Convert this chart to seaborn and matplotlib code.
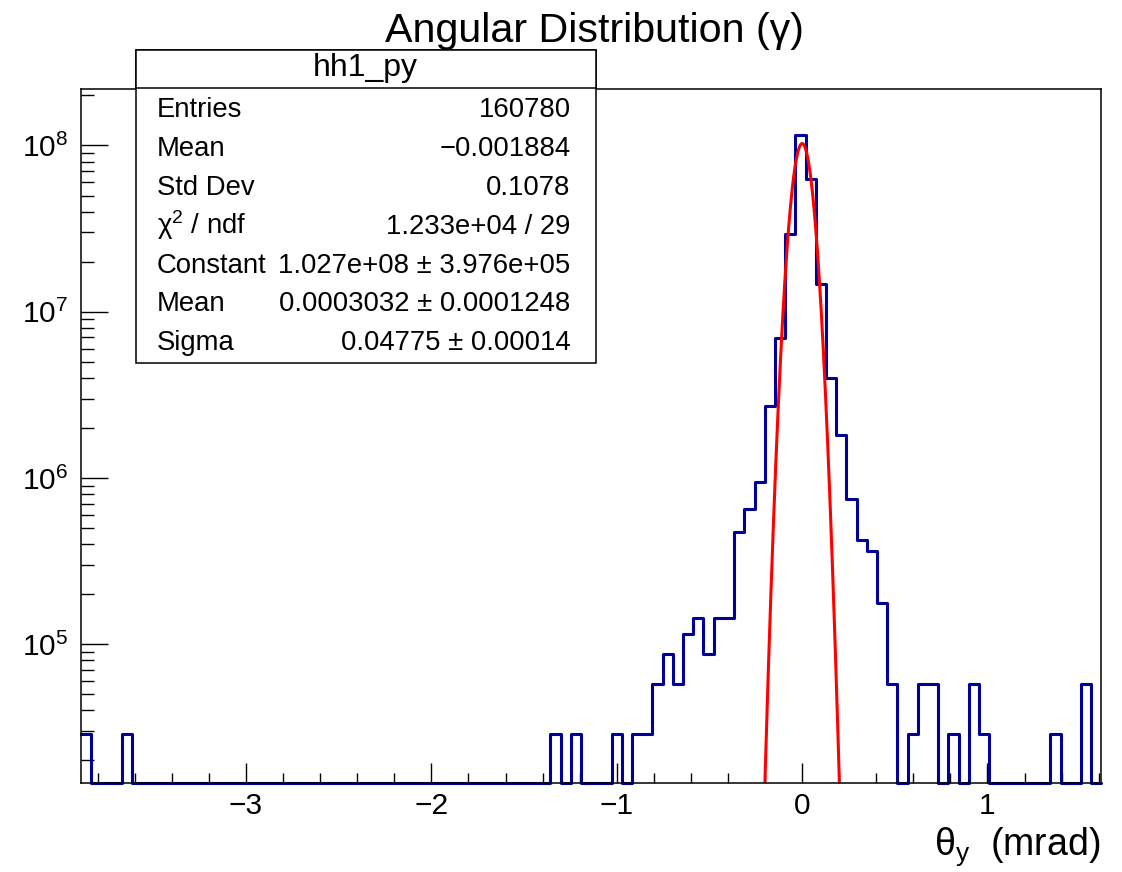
import numpy as np
import pandas as pd
import matplotlib
matplotlib.use("Agg")
import matplotlib.pyplot as plt
import seaborn as sns
from matplotlib.patches import Rectangle
from matplotlib.ticker import FixedLocator, LogLocator, NullFormatter, MultipleLocator, LogFormatterSciNotation

# ---------------- data ----------------
X_MIN, X_MAX, N_BINS = -3.89, 1.615, 100
Y_MIN, Y_MAX = 1.466e4, 2.18e8

bin_contents = [
    28900, 0, 0, 0, 28900, 0, 0, 0, 0, 0,
    0, 0, 0, 0, 0, 0, 0, 0, 0, 0,
    0, 0, 0, 0, 0, 0, 0, 0, 0, 0,
    0, 0, 0, 0, 0, 0, 0, 0, 0, 0,
    0, 0, 0, 0, 0, 0, 28900, 0, 28900, 0,
    0, 0, 28900, 0, 28900, 28900, 57800, 86700, 57800, 115600,
    144500, 86700, 144500, 144500, 473000, 650000, 947000, 2.70e6, 6.90e6, 2.92e7,
    1.16e8, 6.25e7, 1.47e7, 3.97e6, 1.81e6, 7.43e5, 4.21e5, 3.62e5, 1.76e5, 57800,
    0, 28900, 57800, 57800, 0, 28900, 0, 57800, 28900, 0,
    0, 0, 0, 0, 0, 28900, 0, 0, 57800, 0,
]

FIT_CONST = 1.027e8
FIT_MEAN = 0.0003032
FIT_SIGMA = 0.04775

x_major_ticks = [-3, -2, -1, 0, 1]

title_text = "Angular Distribution (γ)"
xlabel_text = "θ$_\\mathregular{y}$  (mrad)"
stats_name = "hh1_py"
stats_labels = ["Entries", "Mean", "Std Dev", "χ$^\\mathregular{2}$ / ndf", "Constant", "Mean", "Sigma"]
stats_values = ["160780", "−0.001884", "0.1078", "1.233e+04 / 29",
                "1.027e+08 ± 3.976e+05", "0.0003032 ± 0.0001248", "0.04775 ± 0.00014"]

# ---------------- style ----------------
sns.set_theme(style="white")
plt.rcParams['font.family'] = ['Liberation Sans', 'DejaVu Sans']
plt.rcParams['mathtext.fontset'] = 'custom'
plt.rcParams['mathtext.rm'] = 'Liberation Sans'
plt.rcParams['mathtext.it'] = 'Liberation Sans:italic'
plt.rcParams['mathtext.bf'] = 'Liberation Sans:bold'
plt.rcParams['text.color'] = 'black'
plt.rcParams['xtick.color'] = 'black'
plt.rcParams['ytick.color'] = 'black'

BLUE = "#000099"
RED = "#ff0000"

fig = plt.figure(figsize=(11.22, 8.72), dpi=100, facecolor="white")
ax = fig.add_axes([0.0722, 0.1023, 0.9817 - 0.0722, 0.8977 - 0.1023])

edges = np.linspace(X_MIN, X_MAX, N_BINS + 1)
centers = 0.5 * (edges[:-1] + edges[1:])
hist_df = pd.DataFrame({
    "theta": centers,
    "content": np.maximum(np.array(bin_contents, dtype=float), Y_MIN),
})

sns.histplot(data=hist_df, x="theta", weights="content", bins=[float(e) for e in edges],
             element="step", fill=False, color=BLUE, linewidth=2.2, ax=ax)
for ln in ax.lines:
    ln.set_clip_on(False)

xf = np.linspace(-0.24, 0.24, 600)
fit_df = pd.DataFrame({"theta": xf,
                       "fit": FIT_CONST * np.exp(-0.5 * ((xf - FIT_MEAN) / FIT_SIGMA) ** 2)})
sns.lineplot(data=fit_df, x="theta", y="fit", color=RED, linewidth=2.2, ax=ax,
             estimator=None, sort=False)

ax.set_yscale("log")
ax.set_xlim(X_MIN, X_MAX)
ax.set_ylim(Y_MIN, Y_MAX)
ax.set_xlabel("")
ax.set_ylabel("")

ax.xaxis.set_major_locator(FixedLocator(x_major_ticks))
ax.xaxis.set_minor_locator(MultipleLocator(0.2))
ax.yaxis.set_major_locator(LogLocator(base=10, numticks=20))
ax.yaxis.set_minor_locator(LogLocator(base=10, subs=np.arange(2, 10), numticks=20))
ax.yaxis.set_major_formatter(LogFormatterSciNotation())
ax.yaxis.set_minor_formatter(NullFormatter())

ax.tick_params(axis="x", which="major", direction="in", length=14.4, width=1.0,
               bottom=True, top=False, labelsize=21.5, pad=6.5)
ax.tick_params(axis="x", which="minor", direction="in", length=7.2, width=1.0,
               bottom=True, top=False)
ax.tick_params(axis="y", which="major", direction="in", length=19.4, width=1.0,
               left=True, right=False, labelsize=21.5, pad=9)
ax.tick_params(axis="y", which="minor", direction="in", length=9.7, width=1.0,
               left=True, right=False)
for s in ax.spines.values():
    s.set_color("black")
    s.set_linewidth(1.1)
    s.set_visible(True)

# title and x label
fig.text(0.530, 0.9522, title_text, ha="center", va="baseline", fontsize=29.7)
fig.text(0.981, 0.0195, xlabel_text, ha="right", va="baseline", fontsize=27)

# stats box
bx0, bx1 = 0.1209, 0.5309
by0, by1 = 0.5841, 0.9427
hy = 0.8987
fig.add_artist(Rectangle((bx0, by0), bx1 - bx0, by1 - by0, transform=fig.transFigure,
                         facecolor="white", edgecolor="black", linewidth=1.1, zorder=10))
fig.add_artist(Rectangle((bx0, hy), bx1 - bx0, by1 - hy, transform=fig.transFigure,
                         facecolor="white", edgecolor="black", linewidth=1.1, zorder=10))
fig.text((bx0 + bx1) / 2, 0.9128, stats_name, ha="center", va="baseline", fontsize=23, zorder=11)
row_baselines = [0.8658, 0.8212, 0.7766, 0.7320, 0.6874, 0.6428, 0.5982]
for lab, val, yb in zip(stats_labels, stats_values, row_baselines):
    fig.text(0.1400, yb, lab, ha="left", va="baseline", fontsize=19.8, zorder=11)
    fig.text(0.5085, yb, val, ha="right", va="baseline", fontsize=19.8, zorder=11)

fig.savefig("out.png", dpi=100, facecolor="white")
